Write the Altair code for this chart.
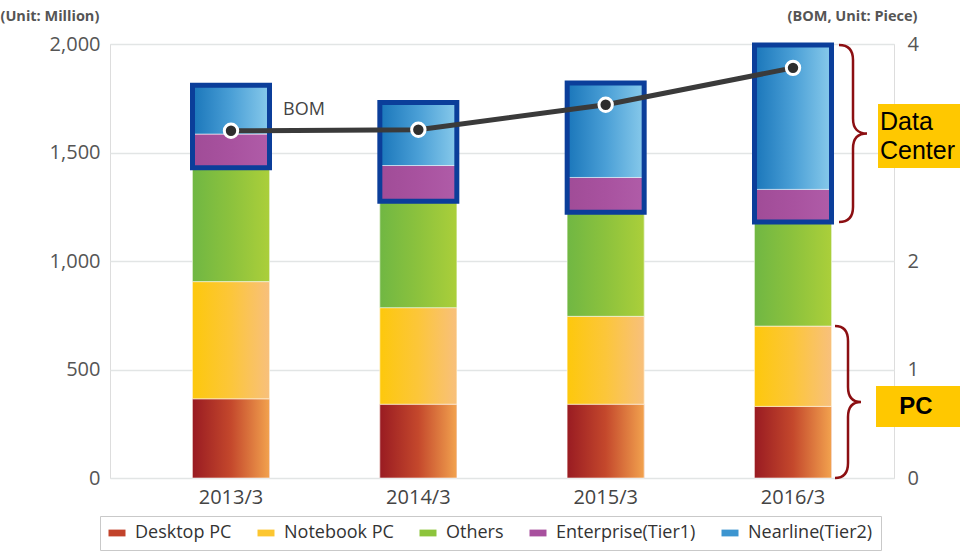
import altair as alt
import pandas as pd

# ---------------- data ----------------
periods = ["2013/3", "2014/3", "2015/3", "2016/3"]
categories = ["Desktop PC", "Notebook PC", "Others", "Enterprise(Tier1)", "Nearline(Tier2)"]
desktop = [365, 340, 340, 330]
notebook = [540, 445, 405, 370]
others = [525, 490, 480, 480]
enterprise = [155, 165, 160, 150]
nearline = [225, 290, 435, 665]
bom = [3.20, 3.21, 3.44, 3.78]

legend_colors = ["#c2432b", "#fcc630", "#8dc43c", "#a8509e", "#3d95d0"]
gradient_stops = {
    "Desktop PC": ["#991b22", "#c4482c", "#f2a24e"],
    "Notebook PC": ["#fdc80c", "#fcc63a", "#f8c07c"],
    "Others": ["#70b743", "#8cc23d", "#abcf3a"],
    "Enterprise(Tier1)": ["#a04c97", "#a8529f", "#b05ca8"],
    "Nearline(Tier2)": ["#1a76ba", "#4a9fd6", "#88caeb"],
}

# ---------------- tables ----------------
series = [desktop, notebook, others, enterprise, nearline]
rows = []
for i, p in enumerate(periods):
    cum = 0
    for cat, vals in zip(categories, series):
        rows.append({"period": p, "category": cat, "start": cum, "end": cum + vals[i]})
        cum += vals[i]
df = pd.DataFrame(rows)

frame_df = pd.DataFrame({
    "period": periods,
    "lo": [desktop[i] + notebook[i] + others[i] for i in range(4)],
    "hi": [desktop[i] + notebook[i] + others[i] + enterprise[i] + nearline[i] for i in range(4)],
})
bom_df = pd.DataFrame({"period": periods, "bom": bom})

PX = 434 / 2000.0  # pixels per unit on left axis
dc_lo = frame_df["lo"].iloc[3]
dc_hi = frame_df["hi"].iloc[3]
pc_hi = desktop[3] + notebook[3]
annot_df = pd.DataFrame({
    "period": ["2016/3", "2016/3"],
    "kind": ["dc", "pc"],
    "mid": [(dc_lo + dc_hi) / 2.0, pc_hi / 2.0],
})


def brace_path(h_px, w_px=14.0, c_px=15.0):
    u = h_px / 2.0
    a = w_px / u
    b = c_px / u
    return (f"M{-a:.4f},-1Q0,-1,0,{-1 + b:.4f}L0,{-b:.4f}Q0,0,{a:.4f},0"
            f"Q0,0,0,{b:.4f}L0,{1 - b:.4f}Q0,1,{-a:.4f},1")


def rect_path(w, h):
    r = h / w
    return f"M-1,{-r:.4f}H1V{r:.4f}H-1Z"


# ---------------- shared encodings ----------------
x_enc = alt.X(
    "period:N",
    sort=periods,
    scale=alt.Scale(domain=periods, paddingInner=0.589, paddingOuter=0.387, align=0.569),
    axis=alt.Axis(title=None, labelFontSize=20, labelColor="#444444", labelFont="Open Sans",
                  labelPadding=9, domain=False, ticks=False, labelAngle=0),
)
y_scale = alt.Scale(domain=[0, 2000], nice=False, zero=True)
y_axis = alt.Axis(
    values=[0, 500, 1000, 1500, 2000], format=",.0f", labelFontSize=20, labelColor="#555555",
    labelFont="Open Sans", labelPadding=10, grid=True, gridColor="#e2e5e5", gridWidth=1.5,
    domain=False, ticks=False,
    title="(Unit: Million)", titleAngle=0, titleAlign="left", titleBaseline="middle",
    titleX=-110, titleY=-28, titleFontSize=14.5, titleFontWeight="bold", titleColor="#555555",
    titleFont="Open Sans",
)


def Y(field):
    return alt.Y(field, scale=y_scale, axis=y_axis)


# base solid bars (drive the legend)
base = alt.Chart(df).mark_bar().encode(
    x=x_enc,
    y=Y("start:Q"),
    y2="end:Q",
    color=alt.Color(
        "category:N",
        scale=alt.Scale(domain=categories, range=legend_colors),
        legend=alt.Legend(
            orient="none", legendX=-10, legendY=472, direction="horizontal", title=None,
            symbolType="M-1,-0.4H1V0.4H-1Z", symbolSize=289, symbolStrokeWidth=0,
            labelFontSize=18, labelFont="Open Sans", labelColor="#333333",
            strokeColor="#c9c9c9", padding=8, columnPadding=25, labelOffset=9,
        ),
    ),
)

grad_layers = []
for cat in categories:
    cols = gradient_stops[cat]
    fill = {
        "gradient": "linear", "x1": 0, "x2": 1, "y1": 0, "y2": 0,
        "stops": [{"offset": 0, "color": cols[0]}, {"offset": 0.5, "color": cols[1]},
                  {"offset": 1, "color": cols[2]}],
    }
    grad_layers.append(
        alt.Chart(df).transform_filter(alt.datum.category == cat)
        .mark_bar(fill=fill, stroke="#ffffff", strokeWidth=0.8, strokeOpacity=0.7)
        .encode(x=x_enc, y=Y("start:Q"), y2="end:Q")
    )

frame = alt.Chart(frame_df).mark_bar(fill="transparent", stroke="#0b3e9a", strokeWidth=5).encode(
    x=x_enc, y=Y("lo:Q"), y2="hi:Q"
)

dc_h = (dc_hi - dc_lo) * PX
pc_h = pc_hi * PX
brace_color = "#8c0f12"

brace_dc = alt.Chart(annot_df).transform_filter(alt.datum.kind == "dc").mark_point(
    shape=brace_path(dc_h), size=dc_h ** 2, filled=False, stroke=brace_color,
    strokeWidth=2.5, opacity=1, xOffset=60,
).encode(x=x_enc, y=Y("mid:Q"))

brace_pc = alt.Chart(annot_df).transform_filter(alt.datum.kind == "pc").mark_point(
    shape=brace_path(pc_h, w_px=13.0), size=pc_h ** 2, filled=False, stroke=brace_color,
    strokeWidth=2.5, opacity=1, xOffset=55,
).encode(x=x_enc, y=Y("mid:Q"))

box_dc = alt.Chart(annot_df).transform_filter(alt.datum.kind == "dc").mark_point(
    shape=rect_path(82, 64), size=82 ** 2, filled=True, fill="#ffc800", strokeWidth=0,
    opacity=1, xOffset=126, yOffset=2.5,
).encode(x=x_enc, y=Y("mid:Q"))

box_pc = alt.Chart(annot_df).transform_filter(alt.datum.kind == "pc").mark_point(
    shape=rect_path(84, 41), size=84 ** 2, filled=True, fill="#ffc800", strokeWidth=0,
    opacity=1, xOffset=125, yOffset=4.5,
).encode(x=x_enc, y=Y("mid:Q"))

text_dc = alt.Chart(annot_df).transform_filter(alt.datum.kind == "dc").mark_text(
    text="Data\nCenter", lineBreak="\n", align="left", baseline="middle",
    font="Liberation Sans", fontSize=25, lineHeight=29, color="#000000", dx=87, dy=-12,
).encode(x=x_enc, y=Y("mid:Q"))

text_pc = alt.Chart(annot_df).transform_filter(alt.datum.kind == "pc").mark_text(
    text="PC", align="center", baseline="middle", font="Liberation Sans", fontSize=24,
    fontWeight="bold", color="#000000", dx=123, dy=5,
).encode(x=x_enc, y=Y("mid:Q"))

left = alt.layer(base, *grad_layers, frame, brace_dc, brace_pc, box_dc, box_pc, text_dc, text_pc)

# ---------------- right axis: BOM ----------------
y_bom = alt.Y(
    "bom:Q",
    scale=alt.Scale(domain=[0, 4], nice=False, zero=True),
    axis=alt.Axis(
        orient="right", values=[0, 1, 2, 4], labelFontSize=20, labelColor="#555555",
        labelFont="Open Sans", labelPadding=13, grid=False, domain=False, ticks=False,
        title="(BOM, Unit: Piece)", titleAngle=0, titleAlign="right", titleBaseline="middle",
        titleX=23, titleY=-28, titleFontSize=14.5, titleFontWeight="bold",
        titleColor="#555555", titleFont="Open Sans",
    ),
)

line = alt.Chart(bom_df).mark_line(color="#3a3a3a", strokeWidth=5).encode(x=x_enc, y=y_bom)
pts = alt.Chart(bom_df).mark_circle(
    size=180, color="#2e2e2e", stroke="#ffffff", strokeWidth=3, opacity=1
).encode(x=x_enc, y=y_bom)
bom_label = alt.Chart(bom_df).transform_filter(alt.datum.period == periods[0]).mark_text(
    text="BOM", dx=73, dy=-21, fontSize=18, font="Open Sans", color="#444444"
).encode(x=x_enc, y=y_bom)

right = alt.layer(line, pts, bom_label)

chart = alt.layer(left, right).resolve_scale(y="independent").properties(
    width=784, height=434,
    padding={"left": 110, "top": 44, "right": 66, "bottom": 74},
    autosize=alt.AutoSizeParams(type="none"),
).configure_view(fill="#f3f5f5", stroke="#dcdfdf", strokeWidth=1.5).configure(
    background="#ffffff"
)

chart.save("out.html", embed_options={"renderer": "svg", "actions": False})
